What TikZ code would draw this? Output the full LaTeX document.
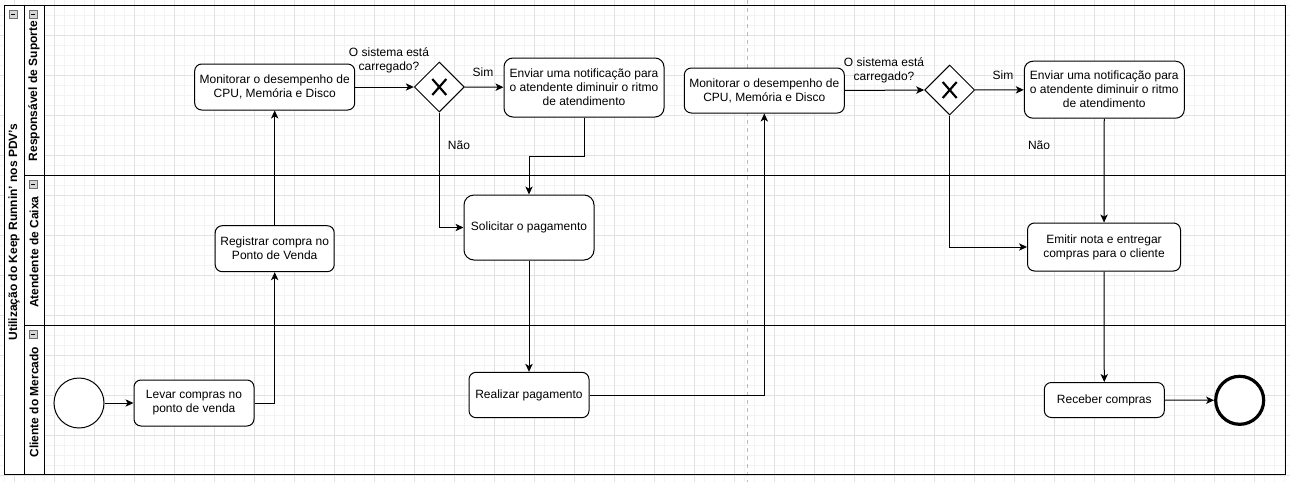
\documentclass[tikz,border=0pt]{standalone}
\usepackage{fontspec}
\setmainfont{Liberation Sans}
\usetikzlibrary{shapes.geometric,arrows.meta}
\definecolor{gridminor}{HTML}{F3F3F3}
\definecolor{gridmajor}{HTML}{E2E2E2}
\definecolor{pagebreak}{HTML}{BBBBBB}
\definecolor{iconfill}{HTML}{D6D6D6}
\definecolor{iconline}{HTML}{707070}
\tikzset{
  basefont/.style={font=\fontsize{9pt}{10.5pt}\selectfont},
  task/.style={draw, line width=0.75pt, rounded corners=5.25pt, fill=white, align=center,
               inner sep=0pt, basefont},
  gateway/.style={draw, line width=0.75pt, diamond, fill=white, inner sep=0pt,
               minimum width=37.5pt, minimum height=37.5pt},
  gwmark/.style={line width=1.6pt},
  startev/.style={draw, line width=0.75pt, circle, fill=white, inner sep=0pt, minimum size=37.5pt},
  endev/.style={draw, line width=2.4pt, circle, fill=white, inner sep=0pt, minimum size=36pt},
  flow/.style={line width=0.75pt, -{Stealth[length=6pt,width=5.5pt,inset=1.6pt]}},
  lbl/.style={basefont, align=center, inner sep=0pt},
  lanelbl/.style={font=\bfseries\fontsize{9pt}{10.5pt}\selectfont, rotate=90, inner sep=0pt},
  poolline/.style={line width=0.75pt},
  iconbox/.style={draw=iconline, fill=iconfill, line width=0.5pt},
}
\begin{document}
\begin{tikzpicture}[x=0.75pt,y=-0.75pt]
\useasboundingbox (0,0) rectangle (1290,482);
% grid
\foreach \i in {0,...,128} {\draw[gridminor, line width=0.6pt] ({4+10*\i},0) -- ({4+10*\i},482);}
\foreach \i in {0,...,48} {\draw[gridminor, line width=0.6pt] (0,{5+10*\i}) -- (1290,{5+10*\i});}
\foreach \i in {0,...,32} {\draw[gridmajor, line width=0.6pt] ({14+40*\i},0) -- ({14+40*\i},482);}
\foreach \i in {0,...,11} {\draw[gridmajor, line width=0.6pt] (0,{35+40*\i}) -- (1290,{35+40*\i});}
% page break line
\draw[pagebreak, line width=0.6pt, dash pattern=on 3pt off 3pt] (747,0) -- (747,482);
% pool and lanes
\fill[white] (4,5) rectangle (44,474);
\draw[poolline] (4,5) rectangle (1285,474);
\draw[poolline] (24,5) -- (24,474);
\draw[poolline] (44,5) -- (44,474);
\draw[poolline] (24,175) -- (1285,175);
\draw[poolline] (24,325) -- (1285,325);
% collapse icons
\foreach \xx/\yy in {9/10, 29/10, 29/180, 29/330} {
  \draw[iconbox] (\xx,\yy) rectangle ++(8,8);
  \draw[black, line width=0.6pt] (\xx+2,\yy+4) -- ++(4,0);
}
% labels of pool and lanes
\node[lanelbl] (pooltitle) at (14,232) {Utilização do Keep Runnin' nos PDV's};
\node[lanelbl] (lane1) at (34,91) {Responsável de Suporte};
\node[lanelbl] (lane2) at (34,252) {Atendente de Caixa};
\node[lanelbl] (lane3) at (34,402) {Cliente do Mercado};

% nodes
\node[startev] (start) at (79,403) {};
\node[task, minimum width=90pt, minimum height=34.5pt] (levar) at (194,403) {Levar compras no\\ponto de venda};
\node[task, minimum width=89.25pt, minimum height=34.5pt] (registrar) at (274.7,248.7) {Registrar compra no\\Ponto de Venda};
\node[task, minimum width=120pt, minimum height=34.5pt] (mon1) at (274.7,87) {Monitorar o desempenho de\\CPU, Memória e Disco};
\node[gateway] (gw1) at (439.3,87) {};
\draw[gwmark] ([shift={(-7,-8)}]gw1.center) -- ([shift={(7,8)}]gw1.center);
\draw[gwmark] ([shift={(-7,8)}]gw1.center) -- ([shift={(7,-8)}]gw1.center);
\node[task, rounded corners=6.75pt, minimum width=120pt, minimum height=44.25pt] (notif1) at (584,87.5) {Enviar uma notificação para\\o atendente diminuir o ritmo\\de atendimento};
\node[task, rounded corners=7.5pt, minimum width=97.5pt, minimum height=48.75pt] (solic) at (529,227.5) {Solicitar o pagamento};
\node[task, minimum width=90pt, minimum height=34pt] (realizar) at (529,395) {Realizar pagamento};
\node[task, minimum width=120pt, minimum height=33.75pt] (mon2) at (764.3,90.5) {Monitorar o desempenho de\\CPU, Memória e Disco};
\node[gateway] (gw2) at (949.7,90) {};
\draw[gwmark] ([shift={(-7,-8)}]gw2.center) -- ([shift={(7,8)}]gw2.center);
\draw[gwmark] ([shift={(-7,8)}]gw2.center) -- ([shift={(7,-8)}]gw2.center);
\node[task, rounded corners=6.5pt, minimum width=120pt, minimum height=42.75pt] (notif2) at (1104.3,89.7) {Enviar uma notificação para\\o atendente diminuir o ritmo\\de atendimento};
\node[task, minimum width=114.75pt, minimum height=36pt] (emitir) at (1104,247) {Emitir nota e entregar\\compras para o cliente};
\node[task, minimum width=90pt, minimum height=26.25pt] (receber) at (1104.3,400) {Receber compras};
\node[endev] (end) at (1239.7,400.3) {};

% text labels
\node[lbl] (q1) at (389,60) {O sistema está\\carregado?};
\node[lbl] (sim1) at (483,72) {Sim};
\node[lbl] (nao1) at (459,145) {Não};
\node[lbl] (q2) at (884,70) {O sistema está\\carregado?};
\node[lbl] (sim2) at (1003,75) {Sim};
\node[lbl] (nao2) at (1039,145) {Não};

% connectors
\draw[flow] (start) -- (levar);
\draw[flow] (levar.east) -| (registrar.south);
\draw[flow] (registrar) -- (mon1);
\draw[flow] (mon1) -- (gw1);
\draw[flow] (gw1) -- (notif1);
\draw[flow] (gw1.south) |- (solic.west);
\draw[flow] (notif1.south) -- ++(0,38.7) -| (solic.north);
\draw[flow] (solic) -- (realizar);
\draw[flow] (realizar.east) -| (mon2.south);
\draw[flow] (mon2.east) -- (gw2.west);
\draw[flow] (gw2) -- (notif2);
\draw[flow] (gw2.south) |- (emitir.west);
\draw[flow] (notif2) -- (emitir);
\draw[flow] (emitir) -- (receber);
\draw[flow] (receber) -- (end);
\end{tikzpicture}
\end{document}
